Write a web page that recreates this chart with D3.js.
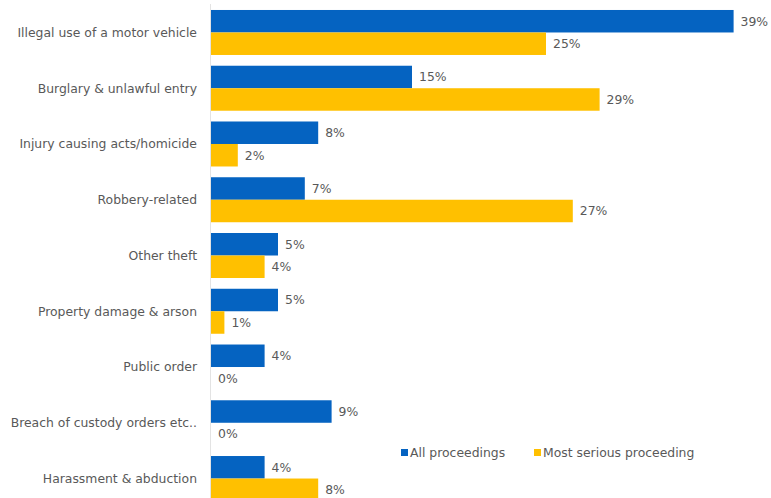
<!DOCTYPE html>
<html>
<head>
<meta charset="utf-8">
<script src="https://cdn.jsdelivr.net/npm/d3@7"></script>
<style>
  html, body { margin: 0; padding: 0; background: #ffffff; }
  svg { display: block; font-family: "DejaVu Sans", Verdana, sans-serif; }
</style>
</head>
<body>
<svg id="chart" width="771" height="498"></svg>
<script>
// Offence categories, top to bottom
const categories = [
  "Illegal use of a motor vehicle",
  "Burglary & unlawful entry",
  "Injury causing acts/homicide",
  "Robbery-related",
  "Other theft",
  "Property damage & arson",
  "Public order",
  "Breach of custody orders etc..",
  "Harassment & abduction"
];

// Share of proceedings (%) per category
const allProceedings = [39, 15, 8, 7, 5, 5, 4, 9, 4];
const mostSerious    = [25, 29, 2, 27, 4, 1, 0, 0, 8];

const seriesNames = ["All proceedings", "Most serious proceeding"];
const seriesColors = ["#0563c1", "#ffc000"];

const rows = categories.map((c, i) => ({
  category: c,
  values: [allProceedings[i], mostSerious[i]]
}));

const fontSize = 12.4;
const textColor = "#595959";

const svg = d3.select("#chart");
const x0 = 211;

const x = d3.scaleLinear().domain([0, 40]).range([x0, x0 + 40 * 13.4]);

const y = d3.scaleBand()
  .domain(categories)
  .range([4.6, 506.4])
  .paddingInner(0.193)
  .paddingOuter(0.0965);

const ySub = d3.scaleBand()
  .domain(seriesNames)
  .range([0, y.bandwidth()]);

// Category axis line
svg.append("line")
  .attr("x1", x0 - 0.5).attr("x2", x0 - 0.5)
  .attr("y1", 4).attr("y2", 498)
  .attr("stroke", "#e3e3e3")
  .attr("stroke-width", 1);

const groups = svg.append("g").selectAll("g")
  .data(rows)
  .join("g")
  .attr("transform", d => `translate(0,${y(d.category)})`);

groups.selectAll("rect")
  .data(d => d.values.map((v, j) => ({ v, s: seriesNames[j], c: seriesColors[j] })))
  .join("rect")
  .attr("x", x(0))
  .attr("y", d => ySub(d.s))
  .attr("width", d => x(d.v) - x(0))
  .attr("height", ySub.bandwidth())
  .attr("fill", d => d.c);

groups.selectAll("text.val")
  .data(d => d.values.map((v, j) => ({ v, s: seriesNames[j] })))
  .join("text")
  .attr("class", "val")
  .attr("x", d => x(d.v) + 7)
  .attr("y", d => ySub(d.s) + ySub.bandwidth() / 2)
  .attr("dy", "0.35em")
  .attr("font-size", fontSize)
  .attr("fill", textColor)
  .text(d => d.v + "%");

// Category labels
svg.append("g").selectAll("text")
  .data(categories)
  .join("text")
  .attr("x", 197)
  .attr("y", d => y(d) + y.bandwidth() / 2)
  .attr("dy", "0.35em")
  .attr("text-anchor", "end")
  .attr("font-size", fontSize)
  .attr("fill", textColor)
  .text(d => d);

// Legend
const legendX = [401, 534];
const legend = svg.append("g").selectAll("g")
  .data(seriesNames)
  .join("g")
  .attr("transform", (d, i) => `translate(${legendX[i]},453)`);

legend.append("rect")
  .attr("x", 0).attr("y", -4)
  .attr("width", 7).attr("height", 7)
  .attr("fill", (d, i) => seriesColors[i]);

legend.append("text")
  .attr("x", 9)
  .attr("y", 0)
  .attr("dy", "0.35em")
  .attr("font-size", fontSize)
  .attr("fill", textColor)
  .text(d => d);
</script>
</body>
</html>
